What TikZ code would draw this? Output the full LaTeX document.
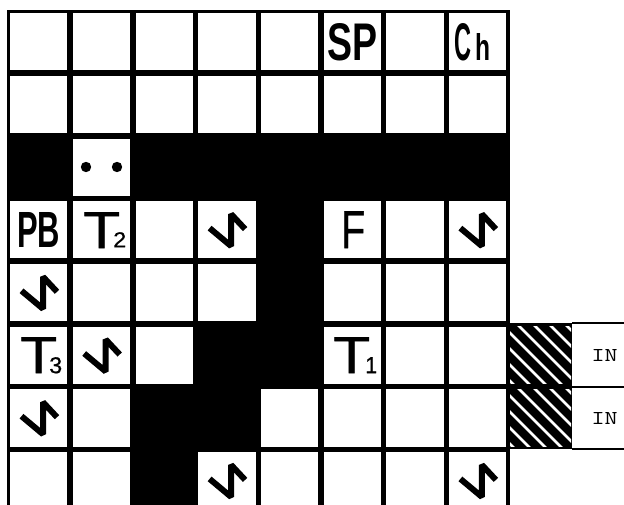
\documentclass[tikz,border=0pt]{standalone}
\usepackage{fontspec}
\setmainfont{Liberation Sans}
\newfontfamily\thickfont[FakeBold=0.7]{Liberation Sans}
\newfontfamily\blockfont{Liberation Sans}
\newfontfamily\subfont[FakeBold=0.6]{Liberation Sans}
\tikzset{
  gridcell/.style={fill=white,draw=none,inner sep=0pt,anchor=north west,minimum width=57.2pt,minimum height=57.2pt},
  glyph/.style={inner sep=0pt,anchor=north west,text=black},
  zig/.style={line width=6pt,miter limit=2,draw=black},
  stripe/.style={line width=2.8pt,draw=white},
  thinrule/.style={line width=2pt,draw=black}
}
\newcommand{\zigzag}[2]{\draw[zig] ({10+62.7*(#2-1)+11.5},{13+62.7*(#1-1)+27}) -- ++(21.5,18) -- ++(0,-32) -- ++(14,15);}
\begin{document}
\begin{tikzpicture}[x=1pt,y=-1pt]
\useasboundingbox (0,0) rectangle (624,505);
\fill[white] (0,0) rectangle (624,505);
\fill[black] (6.5,10) rectangle (510,505);
% white cells
\foreach \r/\cols in {1/{1,2,3,4,5,6,7,8},2/{1,2,3,4,5,6,7,8},3/{2},4/{1,2,3,4,6,7,8},5/{1,2,3,4,6,7,8},6/{1,2,3,6,7,8},7/{1,2,5,6,7,8},8/{1,2,4,5,6,7,8}}{
  \foreach \c in \cols {
    \node[gridcell] (cell-\r-\c) at ({10+62.7*(\c-1)},{13+62.7*(\r-1)}) {};
  }
}
% labels
\node[glyph] (sp) at (327,23) {\resizebox{50pt}{37pt}{\blockfont\bfseries SP}};
\node[glyph] (ch) at (454,23) {\resizebox{17pt}{37pt}{\blockfont\bfseries C}\hspace{4pt}\resizebox{15pt}{27pt}{\blockfont\bfseries h}};
\node[glyph] (pb) at (17,212) {\resizebox{43pt}{35pt}{\blockfont\bfseries PB}};
\node[glyph] (f) at (341,211) {\resizebox{24pt}{37pt}{\thickfont F}};
\node[glyph] (t2) at (83,212) {\resizebox{37pt}{36pt}{\thickfont T}};
\node[glyph] (t2s) at (113,232) {\resizebox{13pt}{15pt}{\subfont 2}};
\node[glyph] (t3) at (20,337) {\resizebox{37pt}{36pt}{\thickfont T}};
\node[glyph] (t3s) at (49,357) {\resizebox{13pt}{16pt}{\subfont 3}};
\node[glyph] (t1) at (333,337) {\resizebox{37pt}{36pt}{\thickfont T}};
\node[glyph] (t1s) at (365,357) {\resizebox{12pt}{16pt}{\subfont 1}};
% dots
\fill (86,167) circle (5.2);
\fill (117,167) circle (5.2);
% zigzags
\zigzag{4}{4}
\zigzag{4}{8}
\zigzag{5}{1}
\zigzag{6}{2}
\zigzag{7}{1}
\zigzag{8}{4}
\zigzag{8}{8}
% hatch blocks
\fill[black] (507,323) rectangle (572,449);
\begin{scope}
\clip (510,326) rectangle (571,383);
\foreach \k in {-5,...,4}{ \draw[stripe] ({193+16*\k+320},320) -- ({193+16*\k+390},390); }
\end{scope}
\begin{scope}
\clip (510,389) rectangle (571,446);
\foreach \k in {-5,...,4}{ \draw[stripe] ({193+16*\k+320},383) -- ({193+16*\k+390},453); }
\end{scope}
% IN cells
\draw[thinrule] (572,323) -- (624,323);
\draw[thinrule] (572,387) -- (624,387);
\draw[thinrule] (572,449) -- (624,449);
\node[inner sep=0pt] (in1) at (604.5,355) {\resizebox{26pt}{12pt}{\ttfamily IN}};
\node[inner sep=0pt] (in2) at (604.5,418) {\resizebox{26pt}{12pt}{\ttfamily IN}};
\end{tikzpicture}
\end{document}
